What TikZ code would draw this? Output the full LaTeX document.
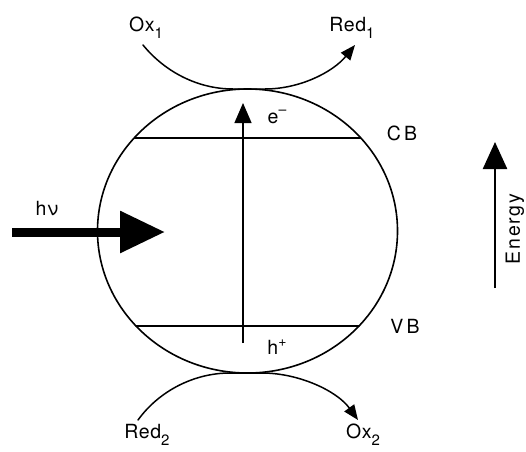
\documentclass[tikz,border=0pt]{standalone}
\usepackage{fontspec}
\setmainfont{TeX Gyre Heros}[LetterSpace=3]
\newfontfamily\widefont{TeX Gyre Heros}[LetterSpace=9]
\usetikzlibrary{arrows.meta,shapes.geometric}
\newcommand\lowsub[1]{\raisebox{-0.38em}{\fontsize{15}{15}\selectfont #1}}
\newcommand\highsup[1]{\raisebox{0.42em}{\fontsize{14}{14}\selectfont #1}}
\begin{document}
\begin{tikzpicture}[x=1pt,y=1pt,
  lbl/.style={font=\fontsize{19.5}{21}\selectfont, inner sep=0pt},
  thin line/.style={line width=1.5pt, line cap=round},
  smalltip/.style={-{Triangle[length=15pt,width=12pt]}}]
\useasboundingbox (0,0) rectangle (526,451);
\fill[white] (0,0) rectangle (526,451);
% particle
\node[draw, ellipse, line width=1.6pt, inner sep=0pt, minimum width=300pt, minimum height=284pt] (p) at (247.5,220) {};
% band edges
\coordinate (cbL) at (134.5,313); \coordinate (cbR) at (360.5,313);
\coordinate (vbL) at (136,125);   \coordinate (vbR) at (359,125);
\draw[thin line] (cbL) -- (cbR);
\draw[thin line] (vbL) -- (vbR);
% excitation arrow
\coordinate (ex0) at (243,108); \coordinate (ex1) at (243,348);
\draw[line width=1.3pt, -{Triangle[length=20pt,width=17pt]}] (ex0) -- (ex1);
% labels
\node[lbl] (ox1) at (146,423) {Ox\lowsub{1}};
\node[lbl] (red1) at (352,423) {Red\lowsub{1}};
\node[lbl] (red2) at (147,16) {Red\lowsub{2}};
\node[lbl] (ox2) at (363,16) {Ox\lowsub{2}};
\node[lbl] (em) at (277,334) {e\highsup{–}};
\node[lbl] (hp) at (277,104) {h\highsup{+}};
\node[lbl] (cb) at (402,318) {C\,B};
\node[lbl] (vb) at (405,125) {V\,B};
\node[lbl] (hv) at (47,242) {hν};
\node[lbl, font=\widefont\fontsize{19.5}{21}\selectfont, rotate=90] (en) at (515,222) {Energy};
% top redox curves
\coordinate (t0) at (143,406); \coordinate (t1) at (233,362);
\coordinate (t2) at (265,362); \coordinate (t3) at (355,406);
\draw[thin line, smalltip] (t0) .. controls (165,379) and (198,362) .. (t1) -- (t2)
   .. controls (300,362) and (333,379) .. (t3);
% bottom redox curves
\coordinate (b0) at (138,31); \coordinate (b1) at (230,78);
\coordinate (b2) at (262,78); \coordinate (b3) at (358,31);
\draw[thin line, smalltip] (b0) .. controls (159,60) and (194,78) .. (b1) -- (b2)
   .. controls (299,78) and (337,60) .. (b3);
% light arrow
\coordinate (l0) at (12,219); \coordinate (l1) at (165,219);
\draw[line width=9pt, -{Triangle[length=45pt,width=40pt]}] (l0) -- (l1);
% energy arrow
\coordinate (e0) at (495,163); \coordinate (e1) at (495,309);
\draw[line width=2.4pt, -{Triangle[length=27pt,width=24pt]}] (e0) -- (e1);
\end{tikzpicture}
\end{document}
